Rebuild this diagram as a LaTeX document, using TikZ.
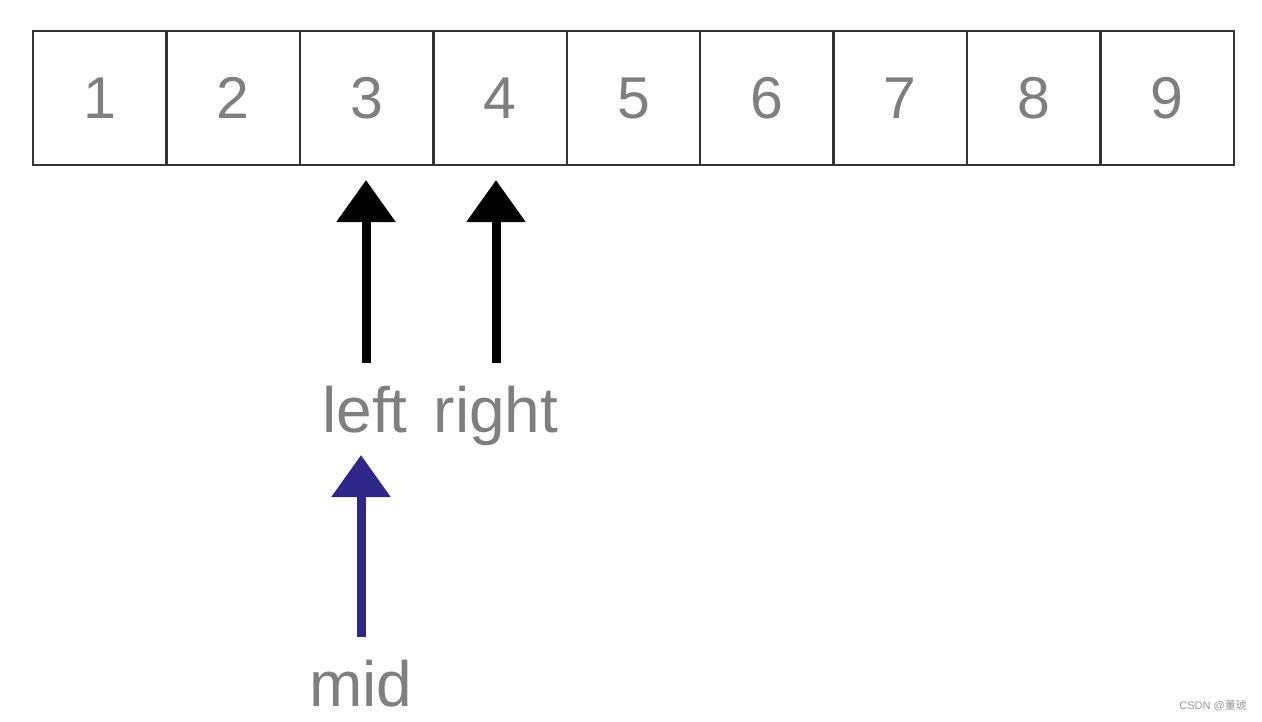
\documentclass[tikz,border=0pt]{standalone}
\usepackage{fontspec}
\setmainfont{Liberation Sans}
\newfontfamily\cjk{Noto Sans CJK SC}
\usetikzlibrary{arrows.meta}
\definecolor{txtgray}{HTML}{7F7F7F}
\definecolor{cellline}{HTML}{333333}
\definecolor{midblue}{HTML}{2F2788}
\tikzset{
  cell/.style={draw=cellline, line width=2.4pt, minimum width=133.44pt, minimum height=134pt, inner sep=0pt, outer sep=0pt, anchor=north west, text=txtgray, font=\fontsize{59}{60}\selectfont},
  lbl/.style={text=txtgray, font=\fontsize{64}{66}\selectfont, anchor=base, inner sep=0pt},
  arr/.style={line width=9pt, -{Triangle[width=57pt,length=42pt]}},
}
\begin{document}
\begin{tikzpicture}[x=1pt,y=-1pt]
\useasboundingbox[fill=white] (0,0) rectangle (1262,721);
\foreach \i in {1,...,9}{
  \node[cell] (c\i) at ({33+133.44*(\i-1)},31) {\raisebox{-2pt}{\i}};
}
\node[lbl] (lft) at (365,432) {left};
\node[lbl] (rgt) at (496,432) {right};
\node[lbl] (mid) at (361,706) {mid};
\coordinate (lftbot) at (366,363);
\coordinate (lfttip) at (366,180);
\coordinate (rgtbot) at (496,363);
\coordinate (rgttip) at (496,180);
\coordinate (midbot) at (361,637);
\coordinate (midtip) at (361,455);
\draw[arr, black] (lftbot) -- (lfttip);
\draw[arr, black] (rgtbot) -- (rgttip);
\draw[arr, midblue] (midbot) -- (midtip);
\node[text=txtgray!80, font=\fontsize{11}{12}\selectfont, anchor=base east, inner sep=0pt] (wm) at (1247,709) {CSDN @{\cjk 董琥}};
\end{tikzpicture}
\end{document}
